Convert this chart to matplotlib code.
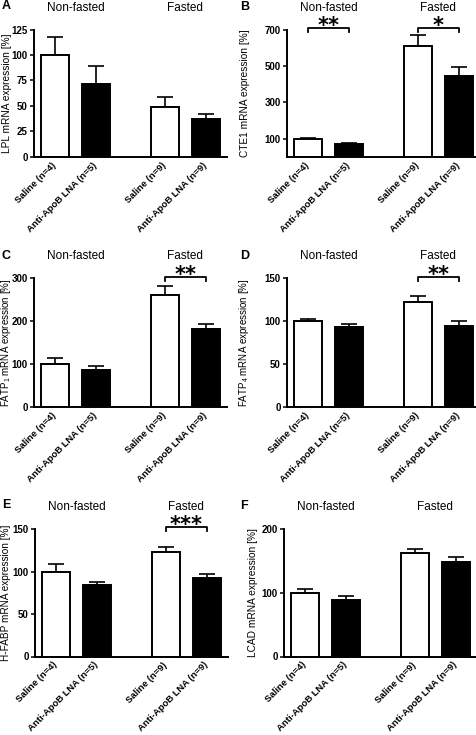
import matplotlib
matplotlib.use("Agg")
import matplotlib.pyplot as plt
import matplotlib.transforms as mtransforms
import numpy as np

plt.rcParams['font.family'] = ['Liberation Sans', 'DejaVu Sans']
plt.rcParams['mathtext.fontset'] = 'custom'
plt.rcParams['mathtext.rm'] = 'Liberation Sans'

groups = ['Saline (n=4)', 'Anti-ApoB LNA (n=5)', 'Saline (n=9)', 'Anti-ApoB LNA (n=9)']
group_titles = ['Non-fasted', 'Fasted']

lpl_mean = [100, 71, 49, 37]
lpl_sem = [18, 18, 10, 5]
cte1_mean = [100, 71, 607, 444]
cte1_sem = [2, 4, 61, 49]
fatp1_mean = [100, 86.5, 261, 182]
fatp1_sem = [13, 8, 22, 10.5]
fatp4_mean = [100, 93.5, 122.7, 94.7]
fatp4_sem = [3, 3.5, 7, 6]
hfabp_mean = [100, 84, 123, 92.5]
hfabp_sem = [9, 4, 6, 4]
lcad_mean = [100, 89, 162, 148]
lcad_sem = [6.3, 5.3, 6.2, 7.3]

ylabels = ['LPL mRNA expression [%]', 'CTE1 mRNA expression [%]',
           r'FATP$_{\mathregular{1}}$ mRNA expression [%]',
           r'FATP$_{\mathregular{4}}$ mRNA expression [%]',
           'H-FABP mRNA expression [%]', 'LCAD mRNA expression [%]']
yticks_list = [[0, 25, 50, 75, 100, 125], [100, 300, 500, 700], [0, 100, 200, 300],
               [0, 50, 100, 150], [0, 50, 100, 150], [0, 100, 200]]
ylims = [125, 700, 300, 150, 150, 200]
letters = ['A', 'B', 'C', 'D', 'E', 'F']
means = [lpl_mean, cte1_mean, fatp1_mean, fatp4_mean, hfabp_mean, lcad_mean]
sems = [lpl_sem, cte1_sem, fatp1_sem, fatp4_sem, hfabp_sem, lcad_sem]
sig = [[], [(0, 1, '**'), (2, 3, '*')], [(2, 3, '**')], [(2, 3, '**')], [(2, 3, '***')], []]

W, H = 477, 735
fig = plt.figure(figsize=(W / 100, H / 100), dpi=100)

# layout in pixels: (left, top, bottom, ylabel_right_x, letter_x, letter_y, ylabel_size)
boxes = [(34, 29.5, 156.7, 12.5, 2, 6, 7.3), (287, 29.5, 156.7, 250, 240, 7, 7.3),
         (34, 278.3, 406.7, 13, 2, 256, 7.0), (287, 278.3, 406.7, 251, 240, 256, 7.0),
         (35, 529, 656.5, 11.5, 2, 505, 7.2), (284, 529, 656.5, 258, 240, 506, 7.3)]
axw = 193

xpos = np.array([0, 1, 2.68, 3.68])
bw = 0.68
fills = ['white', 'black', 'white', 'black']

for i in range(6):
    left, top, bottom, ylx, lx, ly, ylsize = boxes[i]
    ax = fig.add_axes([left / W, (H - bottom) / H, axw / W, (bottom - top) / H])
    m = means[i]
    s = sems[i]
    ax.bar(xpos, m, width=bw, color=fills, edgecolor='black', linewidth=1.4, zorder=2)
    ax.errorbar(xpos, m, yerr=[np.zeros(4), s], fmt='none', ecolor='black',
                elinewidth=1.2, capsize=5.5, capthick=1.2, zorder=1)
    ax.set_xlim(-0.51, 4.2)
    ax.set_ylim(0, ylims[i])
    ax.set_yticks(yticks_list[i])
    ax.set_yticklabels([str(t) for t in yticks_list[i]], fontsize=7, fontweight='bold')
    ax.set_xticks(xpos)
    ax.set_xticklabels(groups, rotation=45, ha='right', va='center',
                       rotation_mode='anchor', fontsize=6.8, fontweight='bold')
    ax.tick_params(axis='x', length=0, pad=5)
    ax.tick_params(axis='y', length=3, width=1.1, pad=1.5)
    for sp in ['top', 'right']:
        ax.spines[sp].set_visible(False)
    for sp in ['left', 'bottom']:
        ax.spines[sp].set_linewidth(1.4)
    ax.set_ylabel(ylabels[i], fontsize=ylsize)
    ax.yaxis.set_label_coords(ylx / W, 0.5,
                              transform=mtransforms.blended_transform_factory(fig.transFigure, ax.transAxes))
    tr = mtransforms.blended_transform_factory(ax.transData, ax.transAxes)
    tr_title = tr + mtransforms.ScaledTranslation(0, 22 / 100, fig.dpi_scale_trans)
    ax.text((xpos[0] + xpos[1]) / 2, 1.0, group_titles[0], transform=tr_title,
            ha='center', va='center', fontsize=8.5)
    ax.text((xpos[2] + xpos[3]) / 2, 1.0, group_titles[1], transform=tr_title,
            ha='center', va='center', fontsize=8.5)
    fig.text(lx / W, 1 - ly / H, letters[i], ha='left', va='center',
             fontsize=9, fontweight='bold')
    drop = 4 / (bottom - top)
    for a, b, st in sig[i]:
        ybr = 1.012
        ax.plot([xpos[a], xpos[a], xpos[b], xpos[b]], [ybr - drop, ybr, ybr, ybr - drop],
                transform=tr, color='black', linewidth=1.3, clip_on=False)
        ax.text((xpos[a] + xpos[b]) / 2, ybr, st, transform=tr + mtransforms.ScaledTranslation(
            0, -4 / 100, fig.dpi_scale_trans), ha='center', va='baseline',
            fontsize=15, fontweight='bold', family='DejaVu Sans')

fig.savefig('out.png', dpi=100)
